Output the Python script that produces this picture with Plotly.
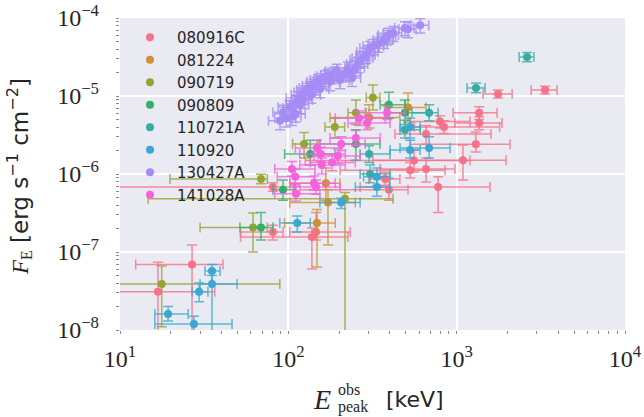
import plotly.graph_objects as go

# ---- data: peak energy (keV) and energy flux (erg s^-1 cm^-2) with error-bar ends ----
e_080916C = [3350, 1760, 1360, 1360, 1300, 1090, 796, 841, 658, 558, 658, 529, 776, 396, 146, 138, 81, 26.8, 16.8, 81, 376]
e_080916C_lo = [2770, 1435, 953, 975, 529, 318, 529, 560, 430, 126, 351, 203, 267, 117, 102, 52, 52, 12.4, 5, 2, 300]
e_080916C_hi = [3950, 2135, 1738, 1860, 2075, 1965, 1200, 1800, 1600, 1200, 977, 853, 1578, 514, 233, 226, 93, 40.9, 36.6, 110, 460]
f_080916C = [1.19e-5, 1.06e-5, 6.1e-6, 4.5e-6, 2.4e-6, 1.5e-6, 4.7e-6, 4.0e-6, 3.26e-6, 1.49e-6, 1.16e-6, 1.12e-6, 6.8e-7, 6.3e-7, 1.8e-7, 1.56e-7, 1.8e-7, 6.9e-8, 3.1e-8, 6.8e-7, 8.6e-7]
f_080916C_lo = [1.06e-5, 9.4e-6, 5.0e-6, 3.7e-6, 1.92e-6, 8.4e-7, 3.9e-6, 3.3e-6, 2.4e-6, 1.06e-6, 7.9e-7, 8.9e-7, 3.2e-7, 4.6e-7, 1.42e-7, 6.05e-8, 1.42e-7, 9e-9, 5e-9, 6.0e-7, 7.2e-7]
f_080916C_hi = [1.33e-5, 1.19e-5, 7.3e-6, 5.4e-6, 3.45e-6, 2.36e-6, 5.6e-6, 4.8e-6, 4.2e-6, 2.03e-6, 1.6e-6, 1.4e-6, 9.2e-7, 8.9e-7, 3.2e-7, 2.03e-7, 2.2e-7, 1.23e-7, 7.4e-8, 7.7e-7, 1.05e-6]

e_081224 = [514, 302, 167, 172, 148]
e_081224_lo = [376, 177, 102, 102, 95]
e_081224_hi = [658, 460, 203, 250, 190]
f_081224 = [7.1e-6, 5.3e-6, 7.6e-7, 4.3e-7, 2.35e-7]
f_081224_lo = [4.6e-6, 3.9e-6, 4.6e-7, 1.23e-7, 6.4e-8]
f_081224_hi = [1.09e-5, 7.7e-6, 1.19e-6, 6.3e-7, 3.5e-7]

e_090719 = [318, 252, 189, 124, 68.8, 61.7, 217, 17.7]
e_090719_lo = [290, 226, 165, 106, 19.8, 29.9, 14.7, 3]
e_090719_hi = [350, 290, 216, 150, 75, 75, 419, 89]
f_090719 = [9.6e-6, 6.1e-6, 4.0e-6, 2.43e-6, 8.6e-7, 2.06e-7, 4.8e-7, 3.9e-8]
f_090719_lo = [6.6e-6, 4.3e-6, 2.9e-6, 1.6e-6, 7.5e-7, 1.0e-7, 0, 1.1e-8]
f_090719_hi = [1.38e-5, 8.9e-6, 5.2e-6, 3.4e-6, 9.9e-7, 3.16e-7, 5.8e-7, 6.6e-8]

e_090809 = [396, 493, 252, 135, 93, 68.8]
e_090809_lo = [351, 376, 154, 95, 81, 51.6]
e_090809_hi = [493, 686, 351, 189, 110, 81]
f_090809 = [7.7e-6, 6.1e-6, 2.43e-6, 1.8e-6, 6.3e-7, 2.06e-7]
f_090809_lo = [5.2e-6, 4.3e-6, 1.5e-6, 1.3e-6, 4.6e-7, 1.42e-7]
f_090809_hi = [1.12e-5, 8.9e-6, 3.7e-6, 2.7e-6, 8.4e-7, 3.2e-7]

e_110721A = [2618, 1303, 686, 493, 302, 306]
e_110721A_lo = [2350, 1153, 543, 461, 267, 267]
e_110721A_hi = [2880, 1475, 776, 607, 402, 402]
f_110721A = [3.16e-5, 1.27e-5, 6.1e-6, 3.7e-6, 1.8e-6, 1.0e-6]
f_110721A_lo = [2.75e-5, 1.10e-5, 4.8e-6, 2.9e-6, 1.4e-6, 7.7e-7]
f_110721A_hi = [3.6e-5, 1.47e-5, 7.7e-6, 4.9e-6, 2.3e-6, 1.3e-6]

e_110920 = [529, 529, 686, 336, 336, 206, 113, 35.2, 35.2, 29.5, 19.3, 27.5]
e_110920_lo = [461, 402, 461, 280, 250, 154, 89, 32.0, 29.9, 26.8, 16.1, 16.1]
e_110920_hi = [607, 607, 914, 402, 402, 267, 135, 39.3, 49.6, 33.3, 25.4, 46.3]
f_110920 = [4.0e-6, 2.03e-6, 2.15e-6, 9.2e-7, 6.8e-7, 4.3e-7, 2.35e-7, 5.7e-8, 3.9e-8, 3.1e-8, 1.6e-8, 1.19e-8]
f_110920_lo = [2.9e-6, 1.6e-6, 1.6e-6, 7.0e-7, 5.2e-7, 3.6e-7, 1.8e-7, 3.9e-8, 5e-9, 2.3e-8, 1.3e-8, 9e-9]
f_110920_hi = [5.2e-6, 2.7e-6, 3.0e-6, 1.19e-6, 9.0e-7, 4.9e-7, 2.9e-7, 6.9e-8, 5.0e-8, 4.0e-8, 2.0e-8, 1.5e-8]

e_130427A = [89.2, 93, 97, 102, 106, 110, 111, 114, 117, 120, 126, 129, 135, 137, 141, 147,
             151, 154, 158, 165, 172, 177, 182, 190, 194, 239, 218, 226, 233, 250, 259, 267,
             279, 290, 298, 306, 323, 342, 369, 386, 396, 420, 493, 514, 607, 203, 105, 122]
e_130427A_err = [13, 12, 14, 15, 13, 16, 14, 17, 15, 16, 18, 17, 19, 18, 20, 19,
                 22, 20, 23, 22, 25, 24, 26, 25, 28, 30, 32, 30, 34, 33, 37, 35,
                 40, 38, 42, 40, 45, 44, 50, 48, 55, 52, 65, 60, 75, 28, 14, 17]
f_130427A = [4.8e-6, 6.2e-6, 5.2e-6, 7.2e-6, 7.0e-6, 5.9e-6, 8.1e-6, 9.4e-6, 7.7e-6, 1.03e-5,
             1.12e-5, 1.19e-5, 1.27e-5, 1.03e-5, 1.35e-5, 1.43e-5, 1.52e-5, 1.23e-5, 1.6e-5,
             1.7e-5, 1.8e-5, 1.52e-5, 1.86e-5, 1.97e-5, 2.09e-5, 1.7e-5, 1.91e-5, 2.22e-5,
             2.03e-5, 2.29e-5, 2.57e-5, 2.9e-5, 3.07e-5, 3.35e-5, 3.66e-5, 4.12e-5, 4.37e-5,
             4.64e-5, 5.22e-5, 5.7e-5, 6.05e-5, 6.4e-5, 7.44e-5, 7.2e-5, 8.1e-5, 1.6e-5,
             5.4e-6, 8.9e-6]
f_130427A_err = [1.1e-6, 1.4e-6, 1.2e-6, 1.5e-6, 1.7e-6, 1.3e-6, 1.9e-6, 2.0e-6, 1.8e-6, 2.4e-6,
                 2.3e-6, 2.7e-6, 2.6e-6, 2.2e-6, 3.0e-6, 3.1e-6, 3.3e-6, 2.8e-6, 3.4e-6,
                 3.9e-6, 3.8e-6, 3.5e-6, 4.2e-6, 4.1e-6, 4.7e-6, 3.8e-6, 4.0e-6, 5.0e-6,
                 4.5e-6, 4.9e-6, 5.8e-6, 6.1e-6, 6.9e-6, 7.2e-6, 8.1e-6, 8.6e-6, 9.8e-6,
                 1.0e-5, 1.15e-5, 1.2e-5, 1.35e-5, 1.4e-5, 1.5e-5, 1.6e-5, 1.7e-5, 3.6e-6,
                 1.2e-6, 2.0e-6]

e_141028A = [263, 294, 386, 252, 206, 148, 156, 197, 182, 158, 105, 110, 142, 146, 111]
e_141028A_lo = [190, 226, 286, 177, 154, 110, 117, 142, 135, 117, 83, 86, 102, 107, 83]
e_141028A_hi = [376, 402, 493, 351, 286, 203, 218, 267, 250, 218, 144, 144, 190, 203, 154]
f_141028A = [5.2e-6, 4.5e-6, 6.1e-6, 2.9e-6, 2.43e-6, 2.16e-6, 1.8e-6, 1.7e-6, 1.4e-6, 1.3e-6,
             1.16e-6, 9.2e-7, 7.6e-7, 6.8e-7, 5.6e-7]
f_141028A_lo = [4.2e-6, 3.7e-6, 5.0e-6, 2.3e-6, 2.0e-6, 1.7e-6, 1.45e-6, 1.35e-6, 1.1e-6, 1.0e-6,
                9.4e-7, 7.4e-7, 6.2e-7, 5.5e-7, 4.5e-7]
f_141028A_hi = [6.4e-6, 5.5e-6, 7.4e-6, 3.6e-6, 3.0e-6, 2.7e-6, 2.2e-6, 2.1e-6, 1.75e-6, 1.6e-6,
                1.45e-6, 1.15e-6, 9.4e-7, 8.4e-7, 7.0e-7]

grb_names = ["080916C", "081224", "090719", "090809", "110721A", "110920", "130427A", "141028A"]
grb_colors = ["#f77189", "#ce9032", "#97a431", "#32b166", "#36ada4", "#39a7d0", "#a48cf4", "#f561dd"]

tick_exp_x = [1, 2, 3, 4]
tick_exp_y = [-8, -7, -6, -5, -4]

SERIF = "Liberation Serif"
SANS = "DejaVu Sans"
INK = "#262626"


def rgba(hex_color, alpha):
    h = hex_color.lstrip("#")
    r, g, b = int(h[0:2], 16), int(h[2:4], 16), int(h[4:6], 16)
    return f"rgba({r},{g},{b},{alpha})"


def asym(vals, lo, hi):
    minus = [v - l for v, l in zip(vals, lo)]
    plus = [h - v for v, h in zip(vals, hi)]
    return minus, plus


bursts = {
    "080916C": (e_080916C, e_080916C_lo, e_080916C_hi, f_080916C, f_080916C_lo, f_080916C_hi),
    "081224": (e_081224, e_081224_lo, e_081224_hi, f_081224, f_081224_lo, f_081224_hi),
    "090719": (e_090719, e_090719_lo, e_090719_hi, f_090719, f_090719_lo, f_090719_hi),
    "090809": (e_090809, e_090809_lo, e_090809_hi, f_090809, f_090809_lo, f_090809_hi),
    "110721A": (e_110721A, e_110721A_lo, e_110721A_hi, f_110721A, f_110721A_lo, f_110721A_hi),
    "110920": (e_110920, e_110920_lo, e_110920_hi, f_110920, f_110920_lo, f_110920_hi),
    "141028A": (e_141028A, e_141028A_lo, e_141028A_hi, f_141028A, f_141028A_lo, f_141028A_hi),
}

fig = go.Figure()

for name, color in zip(grb_names, grb_colors):
    if name == "130427A":
        ex = dict(type="data", array=e_130427A_err, symmetric=True)
        ey = dict(type="data", array=f_130427A_err, symmetric=True)
        xs, ys = e_130427A, f_130427A
    else:
        e, elo, ehi, f, flo, fhi = bursts[name]
        exm, exp_ = asym(e, elo, ehi)
        eym, eyp = asym(f, flo, fhi)
        ex = dict(type="data", array=exp_, arrayminus=exm, symmetric=False)
        ey = dict(type="data", array=eyp, arrayminus=eym, symmetric=False)
        xs, ys = e, f
    ex.update(color=rgba(color, 0.8), thickness=1.5, width=5)
    ey.update(color=rgba(color, 0.8), thickness=1.5, width=5)
    fig.add_trace(go.Scatter(
        x=xs, y=ys, mode="markers", name=name, legendgroup=name,
        marker=dict(color=color, size=8, line=dict(width=0)),
        error_x=ex, error_y=ey,
    ))

axis_common = dict(
    type="log", showgrid=True, gridcolor="white", gridwidth=2, zeroline=False,
    showline=False, ticks="", automargin=False,
    tickfont=dict(family=SERIF, size=24, color=INK),
    minor=dict(ticks="outside", ticklen=3, tickcolor="#888888", tickwidth=1,
               showgrid=False, dtick="D1"),
)

fig.update_xaxes(
    **axis_common, range=[1, 4],
    tickmode="array", tickvals=[10 ** k for k in tick_exp_x],
    ticktext=[f"10<sup>{k}</sup>" for k in tick_exp_x],
    ticklabelstandoff=12,
)
fig.update_yaxes(
    **axis_common, range=[-8, -4],
    tickmode="array", tickvals=[10.0 ** k for k in tick_exp_y],
    ticktext=[f"10<sup>\u2212{-k}</sup>" for k in tick_exp_y],
    ticklabelstandoff=20,
)

fig.update_layout(
    width=644, height=417,
    margin=dict(l=120, r=19, t=18, b=87, autoexpand=False),
    plot_bgcolor="#EAEAF2", paper_bgcolor="white",
    showlegend=True,
    legend=dict(
        x=0.006, y=0.99, xanchor="left", yanchor="top",
        bgcolor="rgba(0,0,0,0)", borderwidth=0,
        font=dict(family=SANS, size=15, color=INK),
        itemwidth=44, tracegroupgap=0,
    ),
    annotations=[
        # y-axis title
        dict(
            text=(f'<i>F</i><sub>E</sub><span style="font-family:{SANS}">'
                  ' [erg s<sup>\u22121</sup> cm<sup>\u22122</sup>]</span>'),
            xref="paper", yref="paper", x=-0.2, y=0.49,
            xanchor="center", yanchor="middle", textangle=-90, showarrow=False,
            font=dict(family=SERIF, size=23, color=INK),
        ),
        # x-axis title pieces
        dict(text="<i>E</i>", xref="paper", yref="paper", x=0.4, y=-0.224,
             xanchor="center", yanchor="middle", showarrow=False,
             font=dict(family=SERIF, size=28, color=INK)),
        dict(text="obs", xref="paper", yref="paper", x=0.428, y=-0.19,
             xanchor="left", yanchor="middle", showarrow=False,
             font=dict(family=SERIF, size=16, color=INK)),
        dict(text="peak", xref="paper", yref="paper", x=0.428, y=-0.248,
             xanchor="left", yanchor="middle", showarrow=False,
             font=dict(family=SERIF, size=16, color=INK)),
        dict(text="[keV]", xref="paper", yref="paper", x=0.522, y=-0.224,
             xanchor="left", yanchor="middle", showarrow=False,
             font=dict(family=SANS, size=22, color=INK)),
    ],
)

fig.write_html("out.html")
